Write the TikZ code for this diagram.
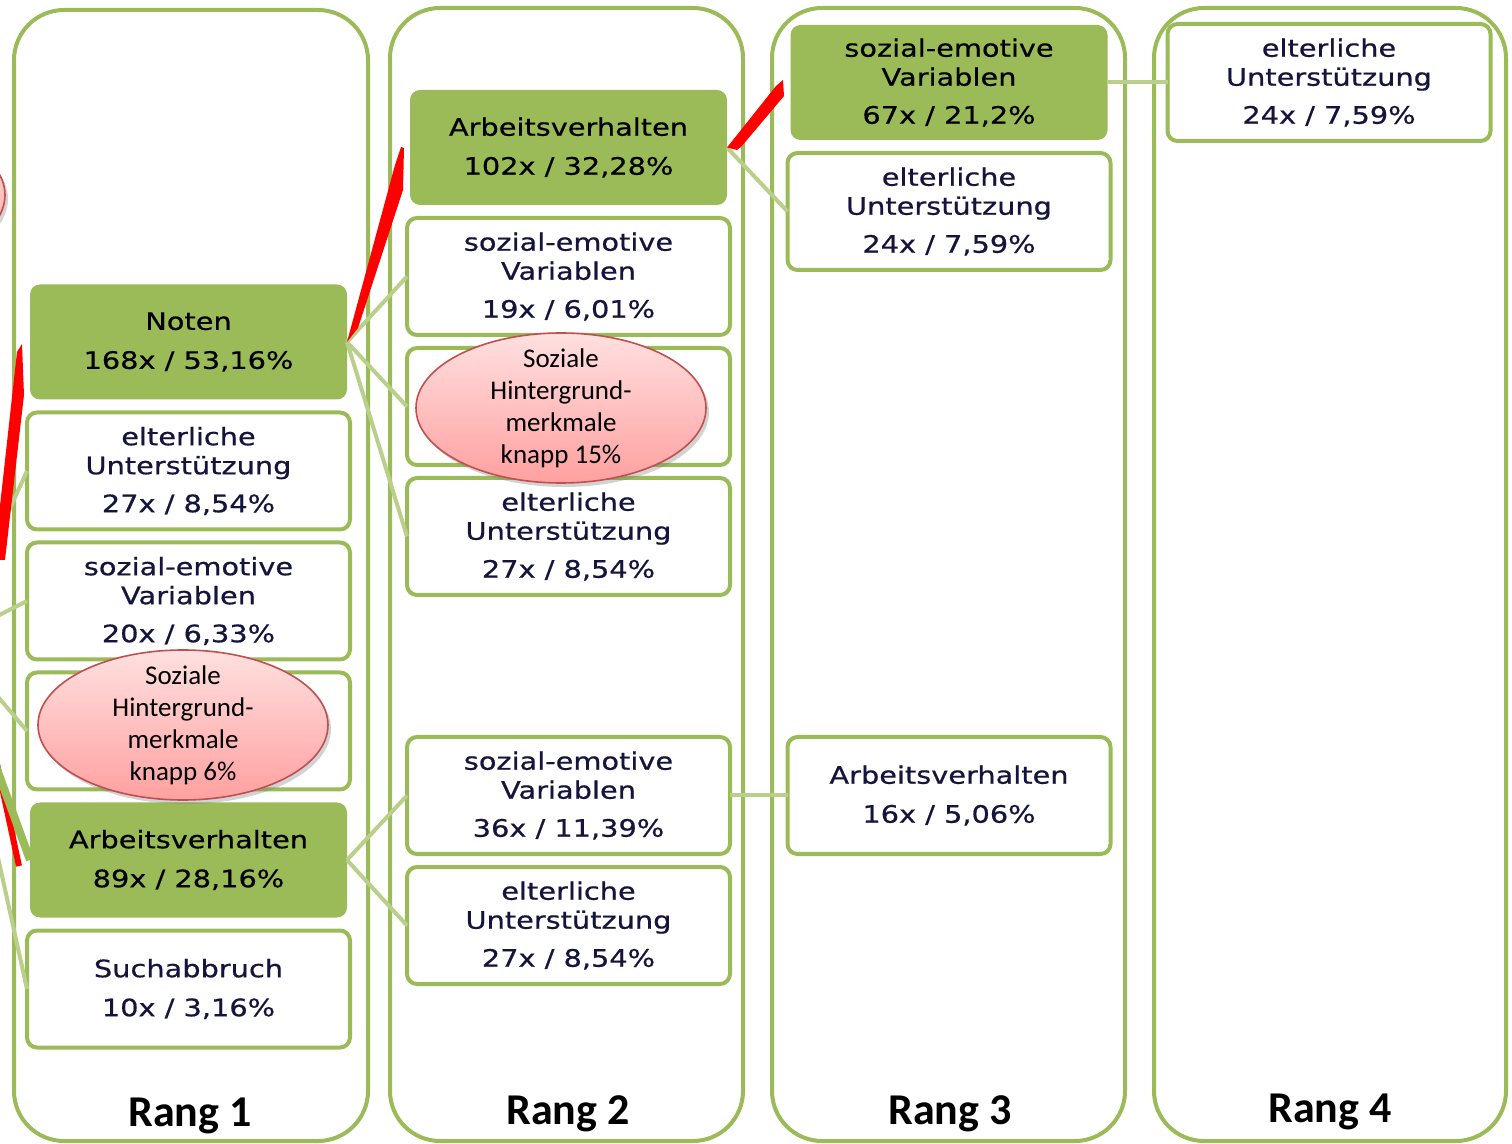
\documentclass[tikz,border=0pt]{standalone}
\usepackage{fontspec}
\setmainfont{Carlito}
\newfontfamily\boxfont[FakeStretch=1.2,FakeBold=0.6]{DejaVu Sans}
\usetikzlibrary{positioning,shapes.geometric,shadows}
\definecolor{olive}{RGB}{155,187,89}
\definecolor{hint}{RGB}{20,20,60}
\definecolor{pinktop}{RGB}{255,224,224}
\definecolor{pinkbot}{RGB}{255,160,160}
\definecolor{rimred}{RGB}{192,80,77}

\begin{document}
\begin{tikzpicture}[x=0.5pt,y=-0.5pt,node distance=6.5pt,
 rang/.style={draw=olive,line width=2pt,rounded corners=25pt},
 box/.style={draw=olive,line width=2pt,fill=white,rounded corners=5pt,minimum width=161.5pt,minimum height=58.5pt,outer sep=0pt,align=center,text=hint,font=\boxfont\fontsize{12}{14.5}\selectfont},
 best/.style={box,draw=none,fill=olive,minimum width=158.5pt,minimum height=57.5pt,text=black},
 blob/.style={ellipse,draw=rimred,line width=0.8pt,top color=pinktop,bottom color=pinkbot,minimum width=145pt,minimum height=75pt,inner xsep=0pt,inner ysep=-4pt,align=center,font=\fontsize{13.5}{16}\selectfont,drop shadow={opacity=0.35,shadow xshift=1.5pt,shadow yshift=-2pt}},
 link/.style={draw=olive!70,line width=2pt},
 hilite/.style={fill=red},
 rangtext/.style={font=\bfseries\fontsize{22}{26}\selectfont}]
\useasboundingbox (0,0) rectangle (1512,1144);
\clip (0,0) rectangle (1512,1144);

\draw[rang] (14,10) rectangle (368,1141);
\draw[rang] (390,8) rectangle (743,1141);
\draw[rang] (772,8) rectangle (1125,1141);
\draw[rang] (1154,8) rectangle (1506,1141);

\node[best] (noten) at (188.5,342) {Noten\\[5pt]168x / 53,16\%};
\node[box] (e1) [below=of noten] {elterliche\\Unterstützung\\[4.5pt]27x / 8,54\%};
\node[box] (s1) [below=of e1] {sozial-emotive\\Variablen\\[4.5pt]20x / 6,33\%};
\node[box] (h1) [below=of s1] {};
\node[best] (a1) [below=of h1] {Arbeitsverhalten\\[5pt]89x / 28,16\%};
\node[box] (sb) [below=of a1] {Suchabbruch\\[5pt]10x / 3,16\%};

\node[best] (a2) at (568.5,147.5) {Arbeitsverhalten\\[5pt]102x / 32,28\%};
\node[box] (s2) [below=of a2] {sozial-emotive\\Variablen\\[4.5pt]19x / 6,01\%};
\node[box] (h2) [below=of s2] {};
\node[box] (e2) [below=of h2] {elterliche\\Unterstützung\\[4.5pt]27x / 8,54\%};
\node[box] (s3) at (568.5,795.5) {sozial-emotive\\Variablen\\[4.5pt]36x / 11,39\%};
\node[box] (e3) [below=of s3] {elterliche\\Unterstützung\\[4.5pt]27x / 8,54\%};

\node[best] (s4) at (949,82.5) {sozial-emotive\\Variablen\\[4.5pt]67x / 21,2\%};
\node[box] (e4) [below=of s4] {elterliche\\Unterstützung\\[4.5pt]24x / 7,59\%};
\node[box] (a3) at (949,795.5) {Arbeitsverhalten\\[5pt]16x / 5,06\%};

\node[box] (e5) at (1329,82.5) {elterliche\\Unterstützung\\[4.5pt]24x / 7,59\%};

\node[rangtext] (r1) at (190,1116) {Rang 1};
\node[rangtext] (r2) at (568,1114) {Rang 2};
\node[rangtext] (r3) at (950,1114) {Rang 3};
\node[rangtext] (r4) at (1330,1112) {Rang 4};

\coordinate (root) at (-50,640);
\draw[link] (root) -- (e1.west);
\draw[link] (root) -- (s1.west);
\draw[link] (root) -- (h1.west);
\draw[link] (root) -- (sb.west);
\fill[hilite] (-6,560) -- (17,352) -- (22,344) -- (24,395) -- (5,560) -- cycle;
\draw[red,line width=3pt] (-6,750) -- (19,866);
\draw[link,draw=olive,line width=4pt] (root) -- (a1.west);

\draw[link] (noten.east) -- (s2.west);
\draw[link] (noten.east) -- (h2.west);
\draw[link] (noten.east) -- (e2.west);
\draw[link] (a1.east) -- (s3.west);
\draw[link] (a1.east) -- (e3.west);
\draw[link] (a2.east) -- (e4.west);
\draw[link] (s3.east) -- (a3.west);
\draw[link] (s4.east) -- (e5.west);
\fill[hilite] (noten.east) -- (395,165) -- (401,147) -- (404,148) -- (403,190) -- (358,328) -- cycle;
\fill[hilite] (a2.east) -- (776,86) -- (783,80) -- (784,96) -- (741,147) -- (737,150) -- cycle;

\node[blob] (k0) at (-140,195) {};
\node[blob] (k1) at (183,725) {Soziale\\Hintergrund-\\merkmale\\knapp 6\%};
\node[blob] (k2) at (561,408) {Soziale\\Hintergrund-\\merkmale\\knapp 15\%};
\end{tikzpicture}
\end{document}
